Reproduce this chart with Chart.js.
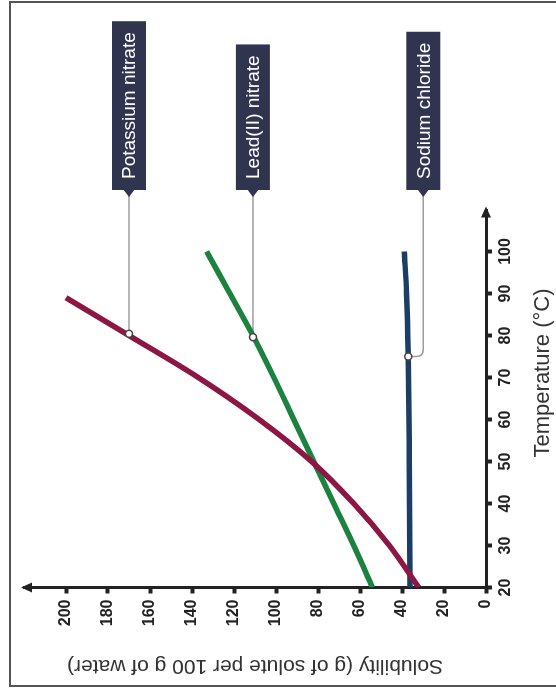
<!DOCTYPE html>
<html>
<head>
<meta charset="utf-8">
<script src="https://cdn.jsdelivr.net/npm/chart.js@4/dist/chart.umd.min.js"></script>
<style>
  html, body { margin: 0; padding: 0; background: #fff; overflow: hidden; }
  #wrap { position: relative; width: 556px; height: 689px; }
  /* chart is drawn upright, then turned a quarter turn counter-clockwise like the scan */
  #myChart { position: absolute; left: 0; top: 0; transform-origin: 0 0; transform: translate(0, 689px) rotate(-90deg); }
</style>
</head>
<body>
<div id="wrap"><canvas id="myChart" width="689" height="556"></canvas></div>
<script>
// solubility curves
const kno3Temp = [20, 30, 40, 50, 60, 70, 80, 89];
const kno3Sol  = [32, 46, 63, 83, 108, 137, 170, 200];

const pbTemp = [20, 30, 40, 50, 60, 70, 80, 90, 100];
const pbSol  = [54, 63, 72.5, 82, 91.5, 101, 111, 122, 133];

const naclTemp = [20, 50, 75, 90, 100];
const naclSol  = [36.2, 36.5, 37.0, 37.8, 38.9];

// callout labels and the points they point at
const calloutNames = ['Potassium nitrate', 'Lead(II) nitrate', 'Sodium chloride'];
const calloutTemp  = [80.4, 79.6, 75];
const calloutSol   = [170, 111, 37];

const tempTicksMax = 100;
const solTicksMax = 200;

function pts(xs, ys) {
  return xs.map((x, i) => ({ x: x, y: ys[i] }));
}

const boxShift = [0, 0, 15];   // px, sodium chloride label sits a bit off its point

const decor = {
  id: 'decor',
  beforeDraw(chart) {
    const ctx = chart.ctx;
    ctx.save();
    ctx.fillStyle = '#fff';
    ctx.fillRect(0, 0, chart.width, chart.height);
    ctx.strokeStyle = '#555';
    ctx.lineWidth = 2;
    ctx.strokeRect(3, 10, 684, 600);
    ctx.restore();
  },
  beforeDatasetsDraw(chart) {
    const ctx = chart.ctx, xs = chart.scales.x, ys = chart.scales.y;
    ctx.save();
    ctx.strokeStyle = '#9c9c9c';
    ctx.lineWidth = 1.5;
    for (let i = 0; i < calloutNames.length; i++) {
      const mx = xs.getPixelForValue(calloutTemp[i]);
      const my = ys.getPixelForValue(calloutSol[i]);
      const by = my + boxShift[i];
      ctx.beginPath();
      ctx.moveTo(494, by);
      if (boxShift[i] === 0) {
        ctx.lineTo(mx, my);
      } else {
        ctx.lineTo(mx + 7, by);
        ctx.quadraticCurveTo(mx, by, mx, by - 7);
        ctx.lineTo(mx, my);
      }
      ctx.stroke();
    }
    ctx.restore();
  },
  afterDraw(chart) {
    const ctx = chart.ctx, a = chart.chartArea, xs = chart.scales.x, ys = chart.scales.y;
    ctx.save();
    // arrow heads
    ctx.fillStyle = '#222';
    ctx.beginPath();
    ctx.moveTo(a.right + 3, a.bottom);
    ctx.lineTo(a.right - 8, a.bottom - 5);
    ctx.lineTo(a.right - 8, a.bottom + 5);
    ctx.closePath();
    ctx.fill();
    ctx.beginPath();
    ctx.moveTo(a.left, a.top - 3);
    ctx.lineTo(a.left - 5, a.top + 8);
    ctx.lineTo(a.left + 5, a.top + 8);
    ctx.closePath();
    ctx.fill();

    // axis titles
    ctx.fillStyle = '#333';
    ctx.textAlign = 'center';
    ctx.textBaseline = 'middle';
    ctx.font = '22px "Liberation Sans", Arial, sans-serif';
    ctx.fillText('Temperature (\u00B0C)', 316, 543);
    ctx.font = '21px "Liberation Sans", Arial, sans-serif';
    ctx.translate(23, 255);
    ctx.rotate(-Math.PI / 2);
    ctx.fillText('Solubility (g of solute per 100 g of water)', 0, 0);
    ctx.setTransform(1, 0, 0, 1, 0, 0);

    // callout boxes
    ctx.font = '19px "Liberation Sans", Arial, sans-serif';
    ctx.textAlign = 'left';
    for (let i = 0; i < calloutNames.length; i++) {
      const mx = xs.getPixelForValue(calloutTemp[i]);
      const my = ys.getPixelForValue(calloutSol[i]);
      const by = my + boxShift[i];
      const w = ctx.measureText(calloutNames[i]).width + 22;
      ctx.fillStyle = '#30344f';
      ctx.fillRect(499, by - 17, w, 34);
      ctx.beginPath();
      ctx.moveTo(492, by);
      ctx.lineTo(500, by - 6);
      ctx.lineTo(500, by + 6);
      ctx.closePath();
      ctx.fill();
      ctx.fillStyle = '#fff';
      ctx.fillText(calloutNames[i], 510, by + 1);

      // little open markers on the curves
      ctx.beginPath();
      ctx.arc(mx, my, 3.5, 0, Math.PI * 2);
      ctx.fillStyle = '#fff';
      ctx.fill();
      ctx.strokeStyle = '#444';
      ctx.lineWidth = 1.5;
      ctx.stroke();
    }
    ctx.restore();
  }
};

const lineStyle = { borderWidth: 5.5, pointRadius: 0, fill: false, cubicInterpolationMode: 'monotone', borderCapStyle: 'butt' };

const myChart = new Chart('myChart', {
  type: 'line',
  data: {
    datasets: [
      Object.assign({ label: 'Potassium nitrate', data: pts(kno3Temp, kno3Sol), borderColor: '#8c1744' }, lineStyle),
      Object.assign({ label: 'Lead(II) nitrate', data: pts(pbTemp, pbSol), borderColor: '#1b823f' }, lineStyle),
      Object.assign({ label: 'Sodium chloride', data: pts(naclTemp, naclSol), borderColor: '#1c3e66' }, lineStyle)
    ]
  },
  options: {
    responsive: false,
    animation: false,
    devicePixelRatio: 1,
    layout: { padding: { top: 24, right: 209.5, left: 0, bottom: 0 } },
    plugins: { legend: { display: false }, tooltip: { enabled: false } },
    scales: {
      x: {
        type: 'linear', min: 20, max: 110,
        afterFit: s => { s.height = 70; },
        border: { display: true, color: '#222', width: 3 },
        grid: { drawOnChartArea: false, drawTicks: true, tickLength: 6, tickWidth: 4, color: '#222' },
        ticks: {
          stepSize: 10, padding: 4, color: '#222', maxRotation: 0,
          font: { family: '"Liberation Sans", Arial, sans-serif', size: 16, weight: 'bold' },
          callback: v => (v > tempTicksMax ? null : v)
        }
      },
      y: {
        type: 'linear', min: 0, max: 220,
        afterFit: s => { s.width = 101.5; },
        border: { display: true, color: '#222', width: 3 },
        grid: { drawOnChartArea: false, drawTicks: true, tickLength: 6, tickWidth: 4, color: '#222' },
        ticks: {
          stepSize: 20, padding: 6, color: '#222',
          font: { family: '"Liberation Sans", Arial, sans-serif', size: 16, weight: 'bold' },
          callback: v => (v > solTicksMax ? null : v)
        }
      }
    }
  },
  plugins: [decor]
});
</script>
</body>
</html>
